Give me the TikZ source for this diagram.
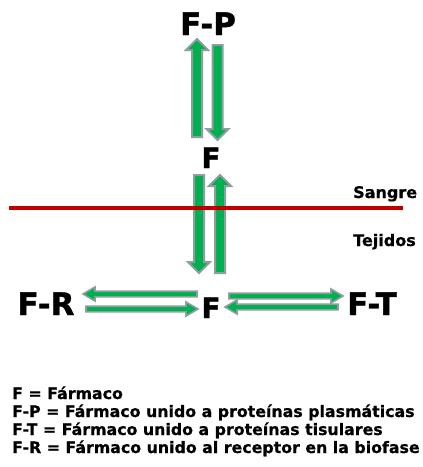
\documentclass[tikz,border=0pt]{standalone}
\usepackage{fontspec}
\setmainfont{DejaVu Sans}
\newfontfamily\heavyfont[FakeBold=1.2]{DejaVu Sans Bold}
\newfontfamily\semiheavy[FakeBold=0.6]{DejaVu Sans Bold}
\usetikzlibrary{calc}
\definecolor{agreen}{HTML}{00B050}
\definecolor{agray}{HTML}{8C9E9E}
\definecolor{ared}{HTML}{C00000}
\newcommand\blkarrow[6]{%
  \coordinate (bh) at ($(#3)!#6!(#2)$);
  \draw[#1] ($(#2)!#4!90:(#3)$) -- ($(bh)!#4!-90:(#2)$) -- ($(bh)!#5!-90:(#2)$) -- (#3)
    -- ($(bh)!#5!90:(#2)$) -- ($(bh)!#4!90:(#2)$) -- ($(#2)!#4!-90:(#3)$) -- cycle;}
\begin{document}
\begin{tikzpicture}[x=1pt,y=-1pt,
  big/.style={font=\fontsize{31}{31}\heavyfont, inner sep=0pt, anchor=base},
  mid/.style={font=\fontsize{28}{28}\heavyfont, inner sep=0pt, anchor=base},
  side/.style={font=\fontsize{16}{16}\semiheavy, inner sep=0pt, anchor=base west},
  legend/.style={font=\fontsize{15.8}{15.8}\semiheavy, inner sep=0pt, anchor=base west},
  varrow/.style={fill=agreen, draw=agray, line width=2pt, line join=miter},
  harrow/.style={fill=agreen, draw=agray, line width=1.6pt, line join=miter}]
\useasboundingbox[fill=white] (0,0) rectangle (423,467);
% labels
\node[big] (FP) at (208,35) {F-P};
\node[mid] (Fm) at (211,168) {F};
\node[mid] (Fb) at (211,318) {F};
\node[big] (FR) at (46,315) {F-R};
\node[big] (FT) at (372,315) {F-T};
\node[side] (sangre) at (353,198) {Sangre};
\node[side] (tejidos) at (353,246) {Tejidos};
% arrow end points
\coordinate (a1s) at (197,137); \coordinate (a1e) at (197,39);
\coordinate (a2s) at (217.5,45); \coordinate (a2e) at (217.5,140);
\coordinate (a3s) at (199,175); \coordinate (a3e) at (199,273);
\coordinate (a4s) at (220,273); \coordinate (a4e) at (220,175);
\coordinate (a5s) at (197,294); \coordinate (a5e) at (83,294);
\coordinate (a6s) at (86,309); \coordinate (a6e) at (198,309);
\coordinate (a7s) at (229,296); \coordinate (a7e) at (343,296);
\coordinate (a8s) at (338,307); \coordinate (a8e) at (225,307);
\blkarrow{varrow}{a1s}{a1e}{5pt}{11pt}{11pt}
\blkarrow{varrow}{a2s}{a2e}{5pt}{11pt}{11pt}
\blkarrow{varrow}{a3s}{a3e}{5pt}{11pt}{11pt}
\blkarrow{varrow}{a4s}{a4e}{5pt}{11pt}{11pt}
\blkarrow{harrow}{a5s}{a5e}{2.8pt}{7pt}{12pt}
\blkarrow{harrow}{a6s}{a6e}{2.8pt}{7pt}{12pt}
\blkarrow{harrow}{a7s}{a7e}{2.8pt}{7pt}{12pt}
\blkarrow{harrow}{a8s}{a8e}{2.8pt}{7pt}{12pt}
% membrane line
\coordinate (l1) at (9,208); \coordinate (l2) at (403,208);
\draw[ared, line width=4pt] (l1) -- (l2);
% legend
\node[legend] (L1) at (12,399) {F = Fármaco};
\node[legend] (L2) at (12,417) {F-P = Fármaco unido a proteínas plasmáticas};
\node[legend] (L3) at (12,435) {F-T = Fármaco unido a proteínas tisulares};
\node[legend] (L4) at (12,453) {F-R = Fármaco unido al receptor en la biofase};
\end{tikzpicture}
\end{document}
